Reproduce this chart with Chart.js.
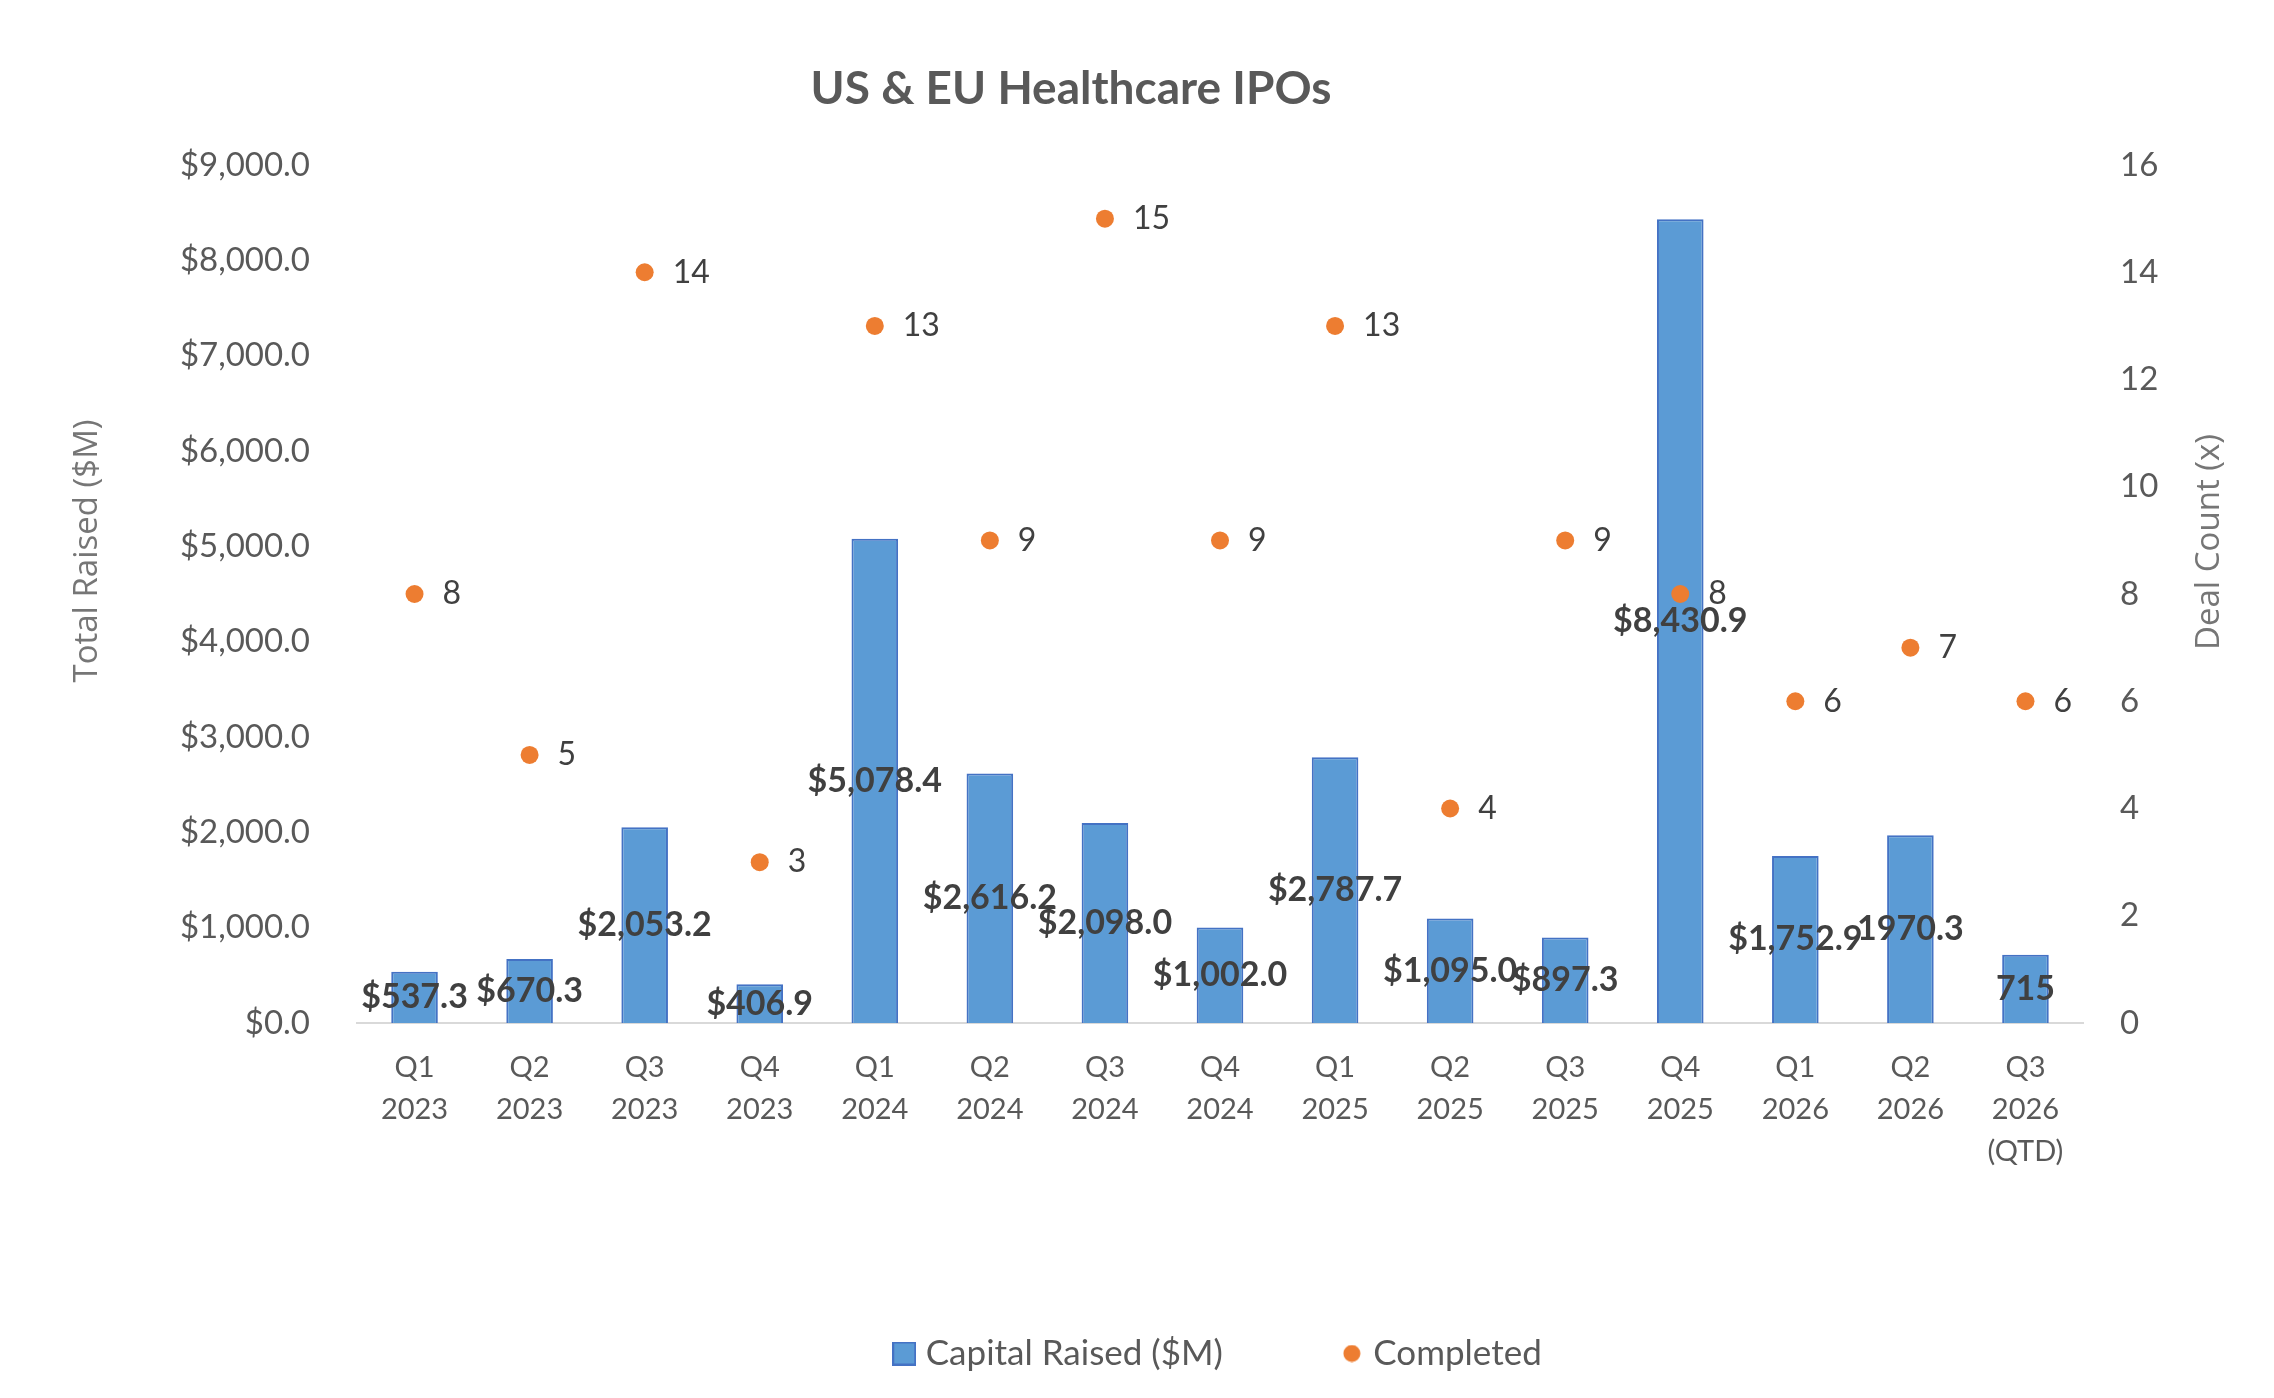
<!DOCTYPE html>
<html>
<head>
<meta charset="utf-8">
<title>US & EU Healthcare IPOs</title>
<script src="https://cdn.jsdelivr.net/npm/chart.js@4.4.1/dist/chart.umd.min.js"></script>
<style>
    html, body {
        margin: 0;
        padding: 0;
        background: #ffffff;
    }
    #chart {
        display: block;
        width: 2274px;
        height: 1398px;
    }
</style>
</head>
<body>
<canvas id="chart" width="2274" height="1398"></canvas>
<script>
// chart data
const quarters = [
    ["Q1", "2023"], ["Q2", "2023"], ["Q3", "2023"], ["Q4", "2023"],
    ["Q1", "2024"], ["Q2", "2024"], ["Q3", "2024"], ["Q4", "2024"],
    ["Q1", "2025"], ["Q2", "2025"], ["Q3", "2025"], ["Q4", "2025"],
    ["Q1", "2026"], ["Q2", "2026"], ["Q3", "2026", "(QTD)"],
];
const capitalRaised = [537.3, 670.3, 2053.2, 406.9, 5078.4, 2616.2, 2098.0, 1002.0, 2787.7, 1095.0, 897.3, 8430.9, 1752.9, 1970.3, 715];
const capitalLabels = ["$537.3", "$670.3", "$2,053.2", "$406.9", "$5,078.4", "$2,616.2", "$2,098.0", "$1,002.0",
    "$2,787.7", "$1,095.0", "$897.3", "$8,430.9", "$1,752.9", "1970.3", "715"];
const dealCount = [8, 5, 14, 3, 13, 9, 15, 9, 13, 4, 9, 8, 6, 7, 6];
const capitalTicks = [0, 1000, 2000, 3000, 4000, 5000, 6000, 7000, 8000, 9000];
const dealTicks = [0, 2, 4, 6, 8, 10, 12, 14, 16];

const chartTitle = "US & EU Healthcare IPOs";
const leftTitle = "Total Raised ($M)";
const rightTitle = "Deal Count (x)";

const blue = "#5B9BD5";
const blueEdge = "#4472C4";
const orange = "#ED7D31";
const textGray = "#595959";

// legend icons (square for bars, dot for deals)
function makeIcon(kind) {
    const c = document.createElement("canvas");
    const g = c.getContext("2d");
    if (kind === "square") {
        c.width = 24;
        c.height = 24;
        g.fillStyle = blue;
        g.fillRect(0, 0, 24, 24);
        g.strokeStyle = blueEdge;
        g.lineWidth = 2;
        g.strokeRect(1, 1, 22, 22);
    } else {
        c.width = 18;
        c.height = 18;
        g.fillStyle = orange;
        g.beginPath();
        g.arc(9, 9, 8.5, 0, Math.PI * 2);
        g.fill();
    }
    return c;
}
const legendIcons = [makeIcon("square"), makeIcon("dot")];

// titles drawn on the canvas
const titlesPlugin = {
    id: "titles",
    afterDraw(chart) {
        const ctx = chart.ctx;
        ctx.save();
        ctx.fillStyle = textGray;
        ctx.textAlign = "center";
        ctx.textBaseline = "middle";
        ctx.font = "bold 46px Lato";
        ctx.fillText(chartTitle, 1071, 89);

        ctx.fillStyle = "#767676";
        ctx.font = "33px 'Open Sans'";
        ctx.translate(88, 551);
        ctx.rotate(-Math.PI / 2);
        ctx.fillText(leftTitle, 0, 0);
        ctx.restore();

        ctx.save();
        ctx.fillStyle = "#767676";
        ctx.textAlign = "center";
        ctx.textBaseline = "middle";
        ctx.font = "33px 'Open Sans'";
        ctx.translate(2210, 542);
        ctx.rotate(-Math.PI / 2);
        ctx.fillText(rightTitle, 0, 0);
        ctx.restore();
    },
};

// value labels: centred on bars, right of dots
const valueLabels = {
    id: "valueLabels",
    afterDatasetsDraw(chart) {
        const ctx = chart.ctx;
        ctx.save();
        ctx.fillStyle = "#404040";
        ctx.textBaseline = "middle";

        ctx.font = "bold 34px Lato";
        ctx.textAlign = "center";
        chart.getDatasetMeta(0).data.forEach((bar, i) => {
            ctx.fillText(capitalLabels[i], bar.x, (bar.y + bar.base) / 2);
        });

        ctx.font = "32px Lato";
        ctx.textAlign = "left";
        chart.getDatasetMeta(1).data.forEach((pt, i) => {
            ctx.fillText(String(dealCount[i]), pt.x + 28, pt.y);
        });
        ctx.restore();
    },
};

const myChart = new Chart(document.getElementById("chart"), {
    type: "bar",
    data: {
        labels: quarters,
        datasets: [{
            label: "Capital Raised ($M)",
            data: capitalRaised,
            backgroundColor: blue,
            borderColor: blueEdge,
            borderWidth: 2,
            barPercentage: 0.405,
            categoryPercentage: 1,
            yAxisID: "y",
            order: 2,
        }, {
            type: "line",
            label: "Completed",
            data: dealCount,
            showLine: false,
            pointRadius: 9,
            pointBackgroundColor: orange,
            pointBorderWidth: 0,
            borderColor: orange,
            backgroundColor: orange,
            yAxisID: "y1",
            order: 1,
        }],
    },
    options: {
        responsive: false,
        devicePixelRatio: 1,
        animation: false,
        layout: {
            padding: {
                left: 168,
                right: 0,
                top: 165,
                bottom: 17,
            },
        },
        plugins: {
            title: {
                display: false,
            },
            tooltip: {
                enabled: false,
            },
            legend: {
                display: true,
                position: "bottom",
                labels: {
                    usePointStyle: true,
                    boxWidth: 8,
                    padding: 125,
                    color: textGray,
                    font: {
                        family: "Lato",
                        size: 35,
                    },
                    // keep dataset order (bars first), each with its own icon
                    sort: (a, b) => a.datasetIndex - b.datasetIndex,
                    generateLabels: (chart) => {
                        const items = Chart.defaults.plugins.legend.labels.generateLabels(chart);
                        return items.map((item) => {
                            item.pointStyle = legendIcons[item.datasetIndex];
                            return item;
                        });
                    },
                },
            },
        },
        scales: {
            x: {
                type: "category",
                offset: true,
                grid: {
                    display: false,
                    drawTicks: false,
                },
                border: {
                    display: true,
                    color: "#D9D9D9",
                    width: 2,
                },
                ticks: {
                    autoSkip: false,
                    maxRotation: 0,
                    padding: 24,
                    color: textGray,
                    font: {
                        family: "Lato",
                        size: 29,
                        lineHeight: 1.45,
                    },
                },
                afterFit: (scale) => {
                    scale.height = 188;
                },
            },
            y: {
                position: "left",
                min: 0,
                max: 9000,
                grid: {
                    display: false,
                    drawTicks: false,
                },
                border: {
                    display: false,
                },
                afterBuildTicks: (scale) => {
                    scale.ticks = capitalTicks.map((v) => ({ value: v }));
                },
                ticks: {
                    padding: 47,
                    color: textGray,
                    font: {
                        family: "Lato",
                        size: 33,
                    },
                    callback: (value) => "$" + value.toLocaleString("en-US", { minimumFractionDigits: 1, maximumFractionDigits: 1 }),
                },
                afterFit: (scale) => {
                    scale.width = 189;
                },
            },
            y1: {
                position: "right",
                min: 0,
                max: 16,
                grid: {
                    display: false,
                    drawTicks: false,
                },
                border: {
                    display: false,
                },
                afterBuildTicks: (scale) => {
                    scale.ticks = dealTicks.map((v) => ({ value: v }));
                },
                ticks: {
                    padding: 37,
                    color: textGray,
                    font: {
                        family: "Lato",
                        size: 33,
                    },
                },
                afterFit: (scale) => {
                    scale.width = 191;
                },
            },
        },
    },
    plugins: [valueLabels, titlesPlugin],
});
</script>
</body>
</html>
